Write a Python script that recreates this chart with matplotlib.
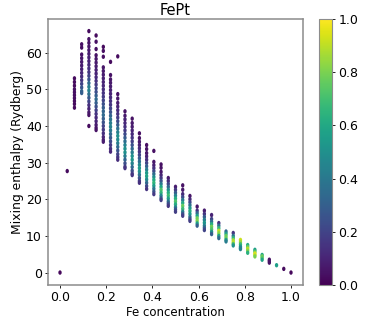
import matplotlib
matplotlib.use("Agg")
import matplotlib.pyplot as plt
from matplotlib.markers import MarkerStyle
from matplotlib.transforms import Affine2D

# Fe concentration of each column of points
fe_conc = [0.0, 0.03125, 0.0625, 0.09375, 0.125, 0.15625, 0.1875, 0.21875, 0.25, 0.28125,
           0.3125, 0.34375, 0.375, 0.40625, 0.4375, 0.46875, 0.5, 0.53125, 0.5625, 0.59375,
           0.625, 0.65625, 0.6875, 0.71875, 0.75, 0.78125, 0.8125, 0.84375, 0.875, 0.90625,
           0.9375, 0.96875, 1.0]

enthalpy = [
    [0.0],
    [27.7],
    [53, 52, 51, 50, 49.2, 48.4, 47.6, 46.8, 46, 45],
    [62.3, 61.4, 59.5, 58.5, 57.5, 56.5, 55.5, 54.5, 53.5, 52.5, 51.5, 50.5, 49.5, 49],
    [65.9, 63.7, 62.7, 61.7, 60.7, 59.7, 58.7, 57.7, 56.7, 55.7, 54.7, 53.7, 52.7, 51.7, 50.7, 49.7, 48.7, 47.7, 46.7, 45.7, 44.7, 43.7, 43, 40],
    [64.7, 63, 61, 59.3, 58.3, 57.3, 56.3, 55.3, 54.3, 53.3, 52.3, 51.3, 50.3, 49.3, 48.3, 47.3, 46.3, 45.3, 44.3, 43.3, 42.3, 41.3, 40.3, 39.5, 38.9],
    [61.6, 60.5, 58.9, 56, 55, 54, 53, 52, 51, 50, 49, 48, 47, 46, 45, 44, 43, 42, 41, 40, 39, 38, 37, 36.2, 35.7],
    [57.5, 53.9, 52.7, 51.8, 50.8, 49.8, 48.8, 47.8, 46.8, 45.8, 44.8, 43.8, 42.8, 41.8, 40.8, 39.8, 38.8, 37.8, 36.8, 35.8, 34.8, 33.8, 33],
    [59, 48.7, 47.5, 46.3, 45.3, 44.3, 43.3, 42.3, 41.3, 40.3, 39.3, 38.3, 37.3, 36.3, 35.3, 34.3, 33.3, 32.3, 31.5, 30.8],
    [44, 42.8, 41.8, 40.8, 39.8, 38.8, 37.8, 36.8, 35.8, 34.8, 33.8, 32.8, 31.8, 30.8, 29.8, 28.9, 28.5],
    [42, 40.8, 39.8, 38.8, 37.8, 36.8, 35.8, 34.8, 33.8, 32.8, 31.8, 30.8, 29.8, 28.8, 27.8, 27, 26.6],
    [38, 36.7, 35.7, 34.8, 33.9, 33, 32.1, 31.2, 30.3, 29.4, 28.5, 27.6, 26.7, 25.8, 25, 24.5],
    [34.8, 33.7, 32.6, 31.7, 30.8, 29.9, 29, 28.1, 27.2, 26.3, 25.4, 24.5, 23.6, 22.8],
    [33.2, 30.2, 29.3, 28.5, 27.7, 26.9, 26.1, 25.3, 24.5, 23.7, 22.9, 22.1, 21.4],
    [29.5, 28.6, 27.5, 26.6, 25.8, 25, 24.2, 23.4, 22.6, 21.8, 21, 20.3, 19.8],
    [25.8, 25, 24.2, 23.4, 22.6, 21.8, 21, 20.2, 19.4, 18.8, 18.2],
    [23.4, 22.6, 21.8, 21, 20.2, 19.4, 18.6, 17.8, 17.2, 16.6],
    [23.8, 22.6, 21.4, 20.6, 19.8, 19, 18.2, 17.4, 16.6, 16, 15.5],
    [20.9, 20, 19.2, 18.4, 17.6, 16.8, 16, 15.2, 14.6, 14.1],
    [18, 16.9, 16.2, 15.5, 14.8, 14.1, 13.4, 12.8],
    [16.9, 16, 15.2, 14.4, 13.6, 12.8, 12.2, 11.6],
    [15.7, 14.6, 13.9, 13.2, 12.5, 11.8, 11.1, 10.5],
    [13.5, 12.8, 12.1, 11.4, 10.7, 10, 9.4],
    [11.2, 10.6, 10, 9.4, 8.9, 8.5],
    [10.8, 10, 9.4, 8.8, 8.2, 7.8, 7.4],
    [8.9, 8.3, 7.7, 7.1, 6.7, 6.4],
    [7.5, 7, 6.5, 6, 5.4],
    [6.2, 5.7, 5.2, 4.8, 4.4],
    [4.8, 4.4, 4, 3.5],
    [3.5, 3.1, 2.7],
    [2.0],
    [1.0],
    [0.0],
]

# colour value of each point, same order as enthalpy
fraction = [
    [0.02],
    [0.03],
    [0.03, 0.03, 0.03, 0.04, 0.04, 0.04, 0.04, 0.03, 0.03, 0.03],
    [0.04, 0.04, 0.05, 0.06, 0.07, 0.08, 0.09, 0.11, 0.13, 0.16, 0.2, 0.26, 0.32, 0.3],
    [0.03, 0.05, 0.05, 0.06, 0.07, 0.08, 0.09, 0.1, 0.12, 0.14, 0.16, 0.2, 0.26, 0.34, 0.42, 0.44, 0.36, 0.28, 0.2, 0.14, 0.1, 0.07, 0.05, 0.03],
    [0.03, 0.04, 0.04, 0.05, 0.06, 0.07, 0.08, 0.09, 0.1, 0.12, 0.14, 0.17, 0.2, 0.24, 0.3, 0.34, 0.3, 0.24, 0.19, 0.15, 0.12, 0.1, 0.08, 0.06, 0.05],
    [0.03, 0.04, 0.04, 0.06, 0.07, 0.08, 0.09, 0.1, 0.11, 0.13, 0.15, 0.17, 0.2, 0.24, 0.28, 0.32, 0.34, 0.3, 0.25, 0.2, 0.17, 0.14, 0.11, 0.09, 0.08],
    [0.03, 0.05, 0.06, 0.07, 0.08, 0.09, 0.1, 0.12, 0.14, 0.16, 0.2, 0.25, 0.32, 0.38, 0.42, 0.44, 0.4, 0.34, 0.28, 0.22, 0.17, 0.14, 0.11],
    [0.03, 0.05, 0.06, 0.08, 0.1, 0.12, 0.14, 0.17, 0.22, 0.28, 0.36, 0.44, 0.5, 0.48, 0.42, 0.34, 0.26, 0.2, 0.16, 0.13],
    [0.05, 0.07, 0.09, 0.11, 0.14, 0.17, 0.22, 0.28, 0.36, 0.44, 0.5, 0.5, 0.42, 0.32, 0.24, 0.18, 0.15],
    [0.05, 0.07, 0.08, 0.1, 0.12, 0.15, 0.19, 0.25, 0.33, 0.42, 0.5, 0.52, 0.44, 0.34, 0.24, 0.18, 0.15],
    [0.04, 0.05, 0.07, 0.09, 0.12, 0.15, 0.2, 0.27, 0.36, 0.46, 0.54, 0.5, 0.38, 0.26, 0.18, 0.14],
    [0.04, 0.05, 0.06, 0.09, 0.13, 0.2, 0.3, 0.42, 0.54, 0.58, 0.48, 0.34, 0.22, 0.15],
    [0.04, 0.06, 0.09, 0.14, 0.22, 0.34, 0.48, 0.6, 0.66, 0.56, 0.4, 0.26, 0.17],
    [0.04, 0.05, 0.06, 0.1, 0.16, 0.26, 0.4, 0.58, 0.72, 0.66, 0.46, 0.28, 0.18],
    [0.07, 0.12, 0.2, 0.32, 0.48, 0.62, 0.68, 0.56, 0.38, 0.24, 0.16],
    [0.08, 0.16, 0.28, 0.44, 0.62, 0.72, 0.62, 0.42, 0.26, 0.18],
    [0.05, 0.07, 0.12, 0.22, 0.4, 0.6, 0.76, 0.68, 0.44, 0.26, 0.18],
    [0.06, 0.12, 0.22, 0.36, 0.52, 0.62, 0.54, 0.38, 0.24, 0.18],
    [0.06, 0.14, 0.32, 0.56, 0.78, 0.8, 0.56, 0.3],
    [0.08, 0.15, 0.28, 0.42, 0.52, 0.44, 0.3, 0.2],
    [0.1, 0.2, 0.38, 0.62, 0.78, 0.72, 0.5, 0.3],
    [0.14, 0.36, 0.66, 0.9, 0.82, 0.56, 0.34],
    [0.34, 0.56, 0.76, 0.78, 0.58, 0.42],
    [0.16, 0.38, 0.66, 0.86, 0.9, 0.72, 0.5],
    [0.92, 0.84, 0.68, 0.54, 0.46, 0.44],
    [0.62, 0.76, 0.9, 0.82, 0.64],
    [0.56, 0.74, 0.95, 0.92, 0.8],
    [0.6, 0.78, 0.74, 0.58],
    [0.04, 0.06, 0.05],
    [0.56],
    [0.03],
    [0.02],
]

yticks = [0, 10, 20, 30, 40, 50, 60]
xticks = [0.0, 0.2, 0.4, 0.6, 0.8, 1.0]
cticks = [0.0, 0.2, 0.4, 0.6, 0.8, 1.0]

W, H = 374, 320
fig = plt.figure(figsize=(W / 100, H / 100), dpi=100)
ax = fig.add_axes([48 / W, 1 - 285 / H, 255 / W, 266 / H])
cax = fig.add_axes([319 / W, 1 - 285 / H, 13 / W, 266 / H])

xs, ys, cs = [], [], []
for x, col_y, col_c in zip(fe_conc, enthalpy, fraction):
    for y, c in zip(col_y, col_c):
        xs.append(x)
        ys.append(y)
        cs.append(c)

# slightly tall dots so the columns close up
dot = MarkerStyle("o", transform=Affine2D().scale(0.95, 1.25))
sc = ax.scatter(xs, ys, c=cs, cmap="viridis", vmin=0, vmax=1, s=6.5, linewidths=0, marker=dot)
ax.set_xlim(-0.052, 1.052)
ax.set_ylim(-3.4, 69.2)
ax.set_xticks(xticks)
ax.set_yticks(yticks)
ax.tick_params(labelsize=9, length=2.5, width=0.6, pad=2)
ax.set_title("FePt", fontsize=10.5, pad=3)
ax.set_xlabel("Fe concentration", fontsize=8.5, labelpad=1)
ax.set_ylabel("Mixing enthalpy (Rydberg)", fontsize=8.9, labelpad=1)
for s in ax.spines.values():
    s.set_color("#8c8c8c")
    s.set_linewidth(1.1)

cb = fig.colorbar(sc, cax=cax, ticks=cticks)
cb.ax.tick_params(labelsize=9, length=2.5, width=0.6, pad=2)
cb.outline.set_edgecolor("#8c8c8c")
cb.outline.set_linewidth(0.8)

fig.savefig("out.png", dpi=100)
